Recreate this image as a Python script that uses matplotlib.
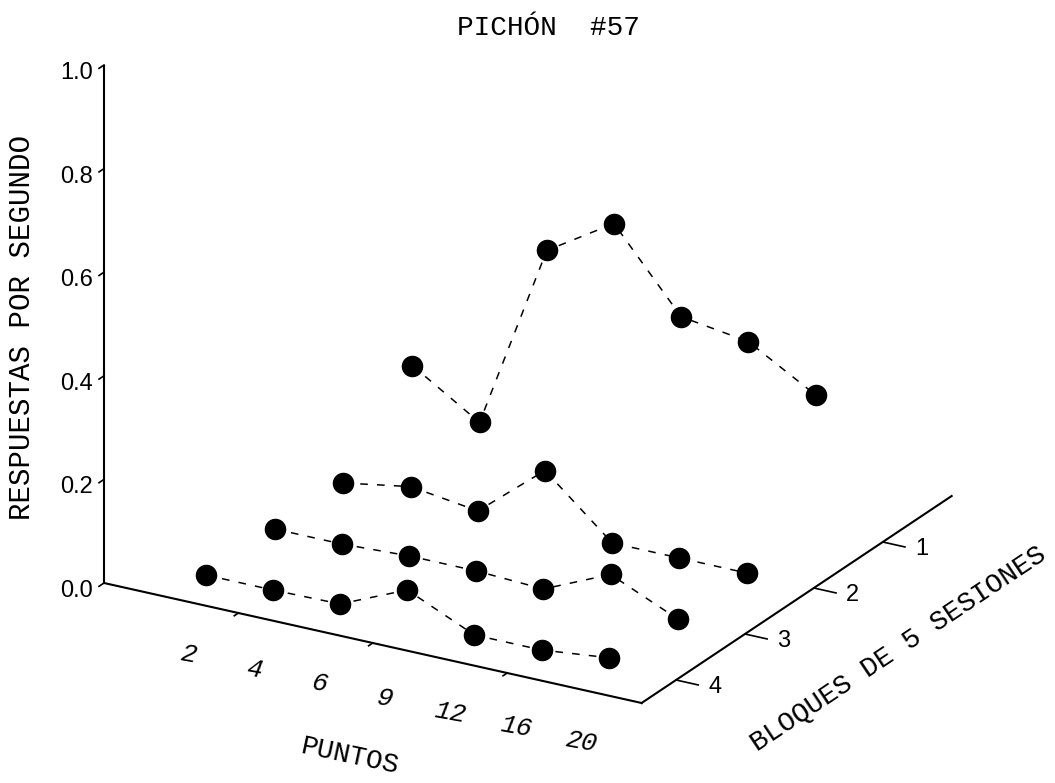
import numpy as np
import matplotlib
matplotlib.use("Agg")
import matplotlib.pyplot as plt

# datos: respuestas por segundo para cada bloque de 5 sesiones
puntos = ['2', '4', '6', '9', '12', '16', '20']
bloques = [1, 2, 3, 4]
resp_b1 = [0.138, 0.057, 0.418, 0.499, 0.348, 0.329, 0.255]
resp_b2 = [0.000, 0.022, 0.004, 0.111, 0.000, 0.000, 0.000]
resp_b3 = [0.000, 0.000, 0.006, 0.006, 0.000, 0.057, 0.000]
resp_b4 = [0.000, 0.000, 0.002, 0.058, 0.000, 0.000, 0.014]
z_ticks = [0.0, 0.2, 0.4, 0.6, 0.8, 1.0]

series = [resp_b1, resp_b2, resp_b3, resp_b4]

# proyeccion oblicua: (puntos, bloque, respuesta) -> pixeles
ORIG = np.array([104.0, 583.0])     # puntos=0, bloque=4.5, resp=0
U_P = np.array([67.2, 15.0])        # un paso en puntos
U_B = np.array([68.9, -46.0])       # un bloque hacia el fondo
U_Z = 518.0                         # una unidad de respuesta
B_FRONT = 4.5
P_MAX = 8


def proj(p, b, z):
    p = np.asarray(p, float)
    b = np.asarray(b, float)
    z = np.asarray(z, float)
    x = ORIG[0] + p * U_P[0] + (B_FRONT - b) * U_B[0]
    y = ORIG[1] + p * U_P[1] + (B_FRONT - b) * U_B[1] - z * U_Z
    return x, y


mono = 'Liberation Mono'
sans = 'Liberation Sans'

fig = plt.figure(figsize=(10.55, 7.83), dpi=100)
ax = fig.add_axes([0, 0, 1, 1])
ax.set_xlim(0, 1055)
ax.set_ylim(783, 0)
ax.axis('off')

lw_axis = 1.5
k = 'black'

# ejes
x0, y0 = proj(0, B_FRONT, 0)
x1, y1 = proj(0, B_FRONT, 1.0)
ax.plot([x0, x1], [y0, y1], color=k, lw=lw_axis, solid_capstyle='butt')
x2, y2 = proj(P_MAX, B_FRONT, 0)
ax.plot([x0, x2], [y0, y2], color=k, lw=lw_axis)
x3, y3 = proj(P_MAX, 0, 0)
ax.plot([x2, x3], [y2, y3], color=k, lw=lw_axis)

# marcas del eje vertical
front = -U_B / np.linalg.norm(U_B)
for z in z_ticks:
    tx, ty = proj(0, B_FRONT, z)
    ax.plot([tx, tx + 6 * front[0]], [ty, ty + 6 * front[1]], color=k, lw=1.2)
    ax.text(tx - 11, ty + 8, '%.1f' % z, ha='right', va='center',
            fontsize=17, family=sans)

# marcas del eje de puntos
for p in [2, 4, 6]:
    tx, ty = proj(p, B_FRONT, 0)
    ax.plot([tx, tx + 5 * front[0]], [ty, ty + 5 * front[1]], color=k, lw=1.2)

for i, lab in enumerate(puntos):
    p = i + 1
    tx, ty = proj(p, B_FRONT, 0)
    ax.text(tx + 19 - 1.7 * p, ty + 57 - 0.5 * p, lab, ha='center',
            va='center', fontsize=19, family=mono, style='italic',
            rotation=-10)

# marcas del eje de bloques
for b in bloques:
    tx, ty = proj(P_MAX, b, 0)
    ex, ey = proj(P_MAX + 0.33, b, 0)
    ax.plot([tx, ex], [ty, ey], color=k, lw=1.2)
    lx, ly = proj(P_MAX + 0.58, b, 0)
    ax.text(lx, ly - 2, str(b), ha='center', va='center', fontsize=17,
            family=sans)

# series
pos = np.arange(1, len(puntos) + 1)
for b, vals in zip(bloques, series):
    xs, ys = proj(pos, b, vals)
    ax.plot(xs, ys, color=k, lw=1.1, ls=(0, (5, 6)), zorder=2)
    ax.plot(xs, ys, 'o', color=k, ms=14.5, zorder=3)

# titulos
ax.text(548, 28, 'PICHÓN  #57', ha='center', va='center', fontsize=20,
        family=mono)
ax.text(22, 327, 'RESPUESTAS POR SEGUNDO', ha='center', va='center',
        rotation=90, fontsize=21, family=mono)
ax.text(350, 757, 'PUNTOS', ha='center', va='center', rotation=-12,
        fontsize=20, family=mono)
ax.text(898, 648, 'BLOQUES DE 5 SESIONES', ha='center', va='center',
        rotation=33.7, rotation_mode='anchor', fontsize=20, family=mono)

fig.savefig('out.png', dpi=100)
